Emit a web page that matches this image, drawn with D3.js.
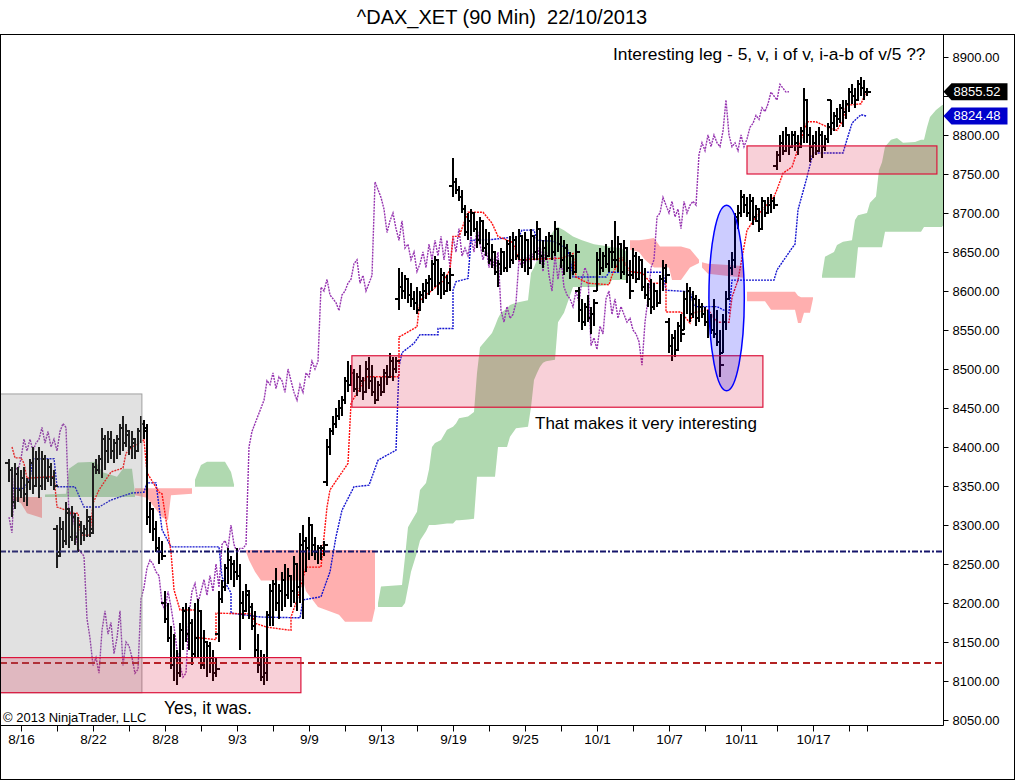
<!DOCTYPE html>
<html>
<head>
<meta charset="utf-8">
<script src="https://cdn.jsdelivr.net/npm/d3@7"></script>
<style>
  body { margin: 0; background: #fff; }
  svg { display: block; }
  text { font-family: 'Liberation Sans', Arial, sans-serif; }
  .axis text { font-family: 'Liberation Sans Narrow', 'Arial Narrow', 'Liberation Sans', Arial, sans-serif; }
</style>
</head>
<body>
<div id="chart"></div>
<script>
// trading days shown (8/15 only partly visible, 10/22 has one bar)
var tradingDays = ['8/15','8/16','8/19','8/20','8/21','8/22','8/23','8/26','8/27','8/28','8/29','8/30',
  '9/2','9/3','9/4','9/5','9/6','9/9','9/10','9/11','9/12','9/13','9/16','9/17','9/18','9/19','9/20',
  '9/23','9/24','9/25','9/26','9/27','9/30','10/1','10/2','10/3','10/4','10/7','10/8','10/9','10/10','10/11',
  '10/14','10/15','10/16','10/17','10/18','10/21','10/22'];

// 90 min bars: [open, high, low, close]
var ohlc = [
  // 8/15
  [8380,8385,8355,8370],[8370,8375,8310,8330],[8330,8380,8320,8365],[8365,8375,8330,8345],
  // 8/16
  [8345,8370,8335,8360],[8360,8375,8330,8340],[8340,8360,8325,8355],[8355,8385,8345,8380],[8380,8400,8340,8350],[8350,8395,8350,8385],
  // 8/19
  [8385,8400,8335,8350],[8350,8395,8345,8385],[8385,8390,8345,8360],[8360,8385,8355,8375],[8375,8380,8350,8360],[8360,8370,8345,8350],
  // 8/20
  [8295,8300,8245,8260],[8265,8310,8260,8295],[8295,8305,8270,8280],[8280,8330,8275,8320],[8315,8320,8270,8285],[8285,8325,8280,8310],
  // 8/21
  [8310,8315,8275,8285],[8285,8310,8265,8300],[8300,8305,8275,8290],[8290,8300,8280,8295],[8295,8320,8285,8310],[8305,8310,8285,8290],
  // 8/22
  [8295,8380,8290,8375],[8375,8385,8365,8370],[8370,8390,8365,8385],[8385,8425,8360,8410],[8410,8415,8370,8395],[8395,8420,8380,8410],
  // 8/23
  [8410,8420,8385,8395],[8395,8410,8380,8405],[8405,8415,8385,8410],[8410,8430,8390,8425],[8425,8440,8395,8405],[8405,8430,8400,8420],
  // 8/26
  [8415,8420,8390,8400],[8400,8420,8385,8410],[8405,8410,8385,8395],[8395,8425,8395,8420],[8420,8440,8405,8430],[8430,8435,8410,8425],
  // 8/27
  [8420,8430,8300,8310],[8310,8330,8290,8320],[8320,8320,8280,8295],[8295,8305,8265,8270],[8270,8285,8250,8265],[8265,8280,8255,8260],
  // 8/28
  [8200,8215,8175,8180],[8180,8200,8150,8155],[8155,8170,8115,8120],[8120,8160,8100,8130],[8130,8140,8095,8110],[8110,8175,8105,8165],
  // 8/29
  [8165,8195,8140,8190],[8190,8200,8150,8160],[8160,8195,8140,8175],[8175,8180,8120,8135],[8135,8200,8130,8155],[8155,8205,8130,8190],
  // 8/30
  [8190,8190,8115,8120],[8120,8165,8115,8150],[8150,8150,8105,8145],[8145,8150,8110,8130],[8130,8140,8100,8110],[8110,8130,8105,8115],
  // 9/2
  [8160,8215,8150,8205],[8205,8230,8200,8220],[8220,8250,8215,8245],[8245,8270,8225,8255],[8255,8260,8230,8250],[8250,8255,8220,8240],
  // 9/3
  [8240,8270,8230,8235],[8235,8250,8140,8200],[8200,8215,8180,8190],[8190,8225,8190,8215],[8210,8215,8180,8195],[8195,8200,8165,8170],
  // 9/4
  [8170,8190,8130,8140],[8140,8160,8110,8120],[8120,8140,8100,8105],[8105,8135,8095,8110],[8110,8190,8100,8185],[8185,8225,8170,8215],
  // 9/5
  [8215,8230,8170,8225],[8225,8245,8190,8200],[8200,8225,8180,8215],[8215,8240,8190,8230],[8230,8250,8195,8210],[8210,8245,8205,8235],
  // 9/6
  [8235,8235,8195,8215],[8215,8260,8200,8250],[8250,8250,8190,8220],[8220,8290,8200,8275],[8275,8300,8180,8280],[8280,8285,8240,8270],
  // 9/9
  [8270,8310,8255,8300],[8300,8300,8260,8275],[8275,8285,8255,8265],[8265,8275,8250,8270],[8270,8275,8255,8270],[8270,8280,8260,8275],
  // 9/10
  [8355,8410,8350,8400],[8400,8425,8390,8420],[8420,8440,8415,8430],[8430,8450,8425,8440],[8440,8460,8435,8450],[8450,8465,8440,8460],
  // 9/11
  [8460,8490,8455,8485],[8485,8510,8470,8480],[8480,8505,8480,8495],[8495,8500,8470,8475],[8475,8495,8465,8490],[8490,8505,8470,8485],
  // 9/12
  [8485,8490,8460,8470],[8470,8510,8470,8500],[8500,8515,8475,8485],[8485,8505,8465,8470],[8470,8490,8455,8460],[8460,8485,8460,8480],
  // 9/13
  [8480,8490,8465,8470],[8470,8500,8470,8495],[8495,8505,8480,8490],[8490,8520,8490,8510],[8510,8515,8485,8500],[8500,8515,8495,8510],
  // 9/16
  [8590,8630,8575,8605],[8605,8625,8590,8600],[8600,8620,8590,8615],[8615,8615,8585,8595],[8595,8610,8580,8590],[8590,8600,8575,8585],
  // 9/17
  [8585,8605,8570,8575],[8575,8600,8575,8595],[8595,8610,8585,8600],[8600,8615,8590,8610],[8610,8620,8595,8615],[8615,8640,8600,8635],
  // 9/18
  [8635,8645,8605,8640],[8640,8640,8595,8610],[8610,8630,8590,8620],[8620,8625,8595,8600],[8600,8620,8600,8610],[8610,8630,8600,8620],
  // 9/19
  [8735,8770,8720,8740],[8740,8745,8725,8730],[8730,8735,8715,8720],[8720,8730,8700,8705],[8705,8710,8670,8675],[8675,8700,8665,8690],
  // 9/20
  [8690,8705,8670,8700],[8700,8700,8675,8680],[8680,8690,8655,8665],[8665,8695,8660,8690],[8690,8690,8650,8655],[8655,8680,8645,8660],
  // 9/23
  [8660,8675,8635,8640],[8640,8660,8630,8650],[8650,8650,8620,8625],[8625,8640,8605,8635],[8635,8655,8620,8650],[8650,8650,8625,8630],
  // 9/24
  [8630,8665,8625,8660],[8660,8670,8630,8640],[8640,8675,8635,8665],[8665,8670,8640,8645],[8645,8680,8640,8670],[8670,8670,8630,8640],
  // 9/25
  [8640,8675,8625,8665],[8665,8665,8620,8630],[8630,8680,8630,8670],[8670,8670,8640,8650],[8650,8690,8640,8680],[8680,8680,8635,8645],
  // 9/26
  [8645,8665,8630,8655],[8655,8670,8640,8645],[8645,8675,8645,8670],[8670,8670,8640,8650],[8650,8690,8645,8680],[8680,8680,8650,8660],
  // 9/27
  [8660,8670,8630,8640],[8640,8665,8620,8655],[8655,8660,8625,8630],[8630,8650,8615,8645],[8645,8645,8620,8625],[8625,8660,8625,8650],
  // 9/30
  [8600,8605,8560,8575],[8575,8590,8550,8560],[8560,8585,8555,8580],[8580,8595,8560,8565],[8565,8580,8545,8570],[8570,8590,8555,8585],
  // 10/1
  [8600,8650,8600,8640],[8640,8655,8620,8630],[8630,8650,8625,8645],[8645,8660,8630,8635],[8635,8655,8625,8650],[8650,8665,8630,8640],
  // 10/2
  [8650,8690,8630,8640],[8640,8670,8625,8660],[8660,8660,8615,8625],[8625,8665,8620,8655],[8655,8655,8610,8620],[8620,8640,8590,8600],
  // 10/3
  [8620,8655,8615,8645],[8645,8650,8610,8615],[8615,8645,8615,8640],[8640,8640,8600,8605],[8605,8630,8590,8595],[8595,8610,8580,8590],
  // 10/4
  [8590,8615,8570,8580],[8580,8610,8575,8600],[8600,8600,8580,8585],[8585,8620,8585,8615],[8615,8640,8600,8630],[8630,8635,8610,8620],
  // 10/7
  [8560,8565,8520,8530],[8530,8545,8510,8540],[8540,8550,8515,8525],[8525,8560,8525,8555],[8555,8570,8535,8545],[8550,8600,8550,8590],
  // 10/8
  [8590,8610,8570,8600],[8600,8605,8560,8570],[8570,8600,8565,8590],[8590,8595,8555,8565],[8565,8590,8560,8580],[8580,8585,8565,8570],
  // 10/9
  [8570,8580,8555,8560],[8560,8575,8540,8565],[8565,8570,8545,8550],[8550,8590,8540,8545],[8545,8575,8530,8535],[8535,8550,8490,8505],
  // 10/10
  [8520,8570,8520,8560],[8560,8600,8550,8590],[8590,8640,8590,8630],[8630,8650,8620,8640],[8640,8700,8630,8695],[8695,8710,8680,8700],
  // 10/11
  [8700,8730,8695,8720],[8720,8725,8700,8710],[8710,8720,8695,8700],[8700,8725,8690,8715],[8715,8720,8685,8695],[8695,8710,8690,8705],
  // 10/14
  [8690,8705,8675,8680],[8680,8720,8680,8715],[8715,8715,8695,8700],[8700,8720,8700,8710],[8710,8725,8700,8715],[8715,8720,8705,8710],
  // 10/15
  [8760,8780,8755,8775],[8775,8800,8765,8790],[8790,8805,8775,8780],[8780,8810,8780,8800],[8800,8800,8775,8785],[8785,8805,8785,8800],
  // 10/16
  [8800,8805,8780,8790],[8790,8800,8775,8785],[8785,8810,8785,8805],[8805,8860,8790,8845],[8845,8845,8790,8800],[8800,8810,8765,8785],
  // 10/17
  [8785,8800,8770,8790],[8790,8805,8775,8780],[8780,8810,8780,8800],[8800,8805,8770,8785],[8785,8800,8780,8795],[8795,8815,8790,8810],
  // 10/18
  [8845,8845,8800,8815],[8815,8830,8805,8825],[8825,8835,8810,8820],[8820,8840,8815,8835],[8835,8845,8810,8830],[8830,8845,8820,8840],
  // 10/21
  [8840,8860,8830,8855],[8855,8865,8840,8850],[8850,8860,8835,8845],[8845,8870,8845,8865],[8865,8875,8850,8860],[8860,8870,8845,8855],
  // 10/22
  [8855,8860,8850,8855.52]
];

// Ichimoku lines: [bar, value]
var tenkan = [[1,8400],[2,8386],[4,8386],[5,8379],[6,8360],[15,8362],[16,8323],[19,8319],[20,8315],[23,8315],[24,8287],
  [27,8287],[28,8328],[30,8345],[34,8368],[38,8373],[39,8392],[41,8400],[45,8409],[46,8367],[50,8342],[51,8340],[54,8265],
  [55,8217],[57,8191],[62,8191],[62,8156],[69,8153],[69,8187],[81,8186],[82,8174],[86,8169],[94,8165],[94,8182],[96,8204],
  [99,8246],[104,8246],[106,8323],[107,8345],[113,8379],[114,8456],[119,8490],[130,8490],[130,8541],[136,8554],[137,8588],
  [141,8601],[145,8614],[147,8627],[148,8670],[150,8670],[153,8701],[158,8701],[161,8687],[163,8670],[168,8662],[170,8640],
  [184,8642],[188,8648],[189,8618],[193,8610],[200,8608],[201,8620],[204,8644],[207,8625],[211,8623],[214,8610],[219,8610],
  [219,8573],[224,8573],[227,8559],[228,8572],[233,8576],[236,8560],[240,8560],[241,8592],[243,8614],[246,8678],[249,8695],
  [255,8721],[256,8730],[258,8751],[261,8759],[264,8794],[266,8817],[269,8817],[273,8810],[276,8806],[278,8819],[279,8838],
  [284,8840],[285,8849],[286,8854]];

var kijun = [[1,8347],[5,8347],[7,8360],[8,8385],[15,8385],[16,8349],[22,8349],[25,8323],[30,8323],[34,8332],[37,8336],
  [41,8341],[45,8342],[46,8354],[49,8354],[51,8294],[54,8272],[70,8272],[71,8233],[74,8213],[74,8187],[84,8182],[97,8181],
  [98,8204],[104,8208],[107,8240],[109,8285],[111,8319],[115,8349],[120,8351],[123,8383],[129,8396],[130,8503],[131,8521],
  [135,8533],[137,8544],[143,8544],[143,8552],[148,8552],[148,8601],[149,8612],[153,8616],[154,8665],[161,8666],[170,8670],
  [171,8678],[175,8678],[176,8665],[181,8664],[186,8655],[187,8642],[188,8618],[199,8618],[200,8624],[218,8624],[219,8601],
  [227,8599],[228,8585],[229,8580],[236,8580],[240,8572],[241,8614],[255,8614],[256,8627],[261,8655],[262,8660],[263,8704],
  [266,8746],[268,8777],[278,8777],[279,8790],[281,8815],[282,8819],[284,8826],[286,8824]];

// cloud: [bar, senkou A, senkou B], null breaks the fill
var kumo = [
  [1,8334,8336],[4,8328,8336],[6,8315,8336],[11,8309,8336], null,
  [12,8339,8336],[19,8340,8336],[20,8372,8336],[23,8380,8336],[29,8381,8336],[31,8368,8336],[36,8362,8336],[38,8372,8336],
  [41,8372,8336],[42,8340,8336], null,
  [42,8338,8347],[46,8335,8347],[49,8320,8347],[51,8310,8347],[53,8306,8347],[54,8338,8347],[61,8340,8347], null,
  [62,8358,8349],[64,8377,8349],[66,8381,8349],[72,8381,8349],[74,8368,8349],[75,8352,8349], null,
  [79,8266,8268],[80,8255,8268],[82,8240,8268],[84,8229,8268],[98,8229,8268],[99,8215,8268],[103,8195,8268],[110,8185,8268],
  [112,8176,8268],[121,8176,8268],[122,8193,8267], null,
  [123,8200,8195],[124,8221,8195],[131,8223,8195],[132,8259,8200],[133,8297,8220],[134,8304,8240],[136,8317,8265],[137,8345,8280],
  [139,8354,8292],[140,8371,8300],[141,8400,8300],[142,8405,8300],[144,8409,8301],[146,8422,8302],[148,8426,8302],[149,8430,8306],
  [150,8437,8306],[153,8439,8307],[155,8445,8308],[156,8495,8362],[157,8528,8362],[161,8546,8362],[162,8555,8362],[163,8565,8400],
  [164,8572,8400],[166,8578,8400],[167,8582,8413],[169,8585,8424],[173,8588,8426],[174,8623,8451],[175,8630,8486],[176,8640,8495],
  [177,8644,8503],[178,8650,8508],[179,8662,8510],[182,8680,8512],[183,8682,8560],[185,8678,8572],[188,8670,8605],[191,8665,8605],
  [195,8660,8605],[200,8657,8608],[201,8656,8614],[204,8655,8614],[206,8650,8614], null,
  [207,8653,8665],[210,8650,8665],[212,8640,8666],[215,8630,8668],[217,8630,8657],[220,8630,8657],[221,8614,8657],[224,8614,8657],
  [227,8630,8654],[230,8636,8640], null,
  [231,8630,8637],[233,8622,8635],[245,8617,8632], null,
  [246,8587,8599],[252,8587,8599],[254,8576,8599],[262,8576,8599],[263,8559,8594],[264,8559,8592],[265,8572,8592],[267,8572,8592],
  [268,8590,8592], null,
  [271,8620,8617],[272,8644,8617],[275,8650,8617],[276,8659,8617],[278,8663,8617],[281,8665,8617],[282,8691,8617],[283,8697,8656],
  [286,8700,8656],[287,8713,8656],[289,8721,8656],[290,8755,8656],[291,8765,8656],[292,8785,8676],[294,8794,8676],[296,8796,8676],
  [298,8790,8676],[302,8791,8676],[304,8794,8676],[305,8794,8682],[306,8810,8682],[307,8823,8682],[309,8832,8682],[311,8838,8682],
  [312,8840,8688]
];

var chikouShift = 26;
var yTicks = d3.range(8050, 8901, 50);

// drawn objects: [bar from, bar to, price top, price bottom]
var greyZone = [-3, 44.3, 8468, 8085];
var pinkZones = [[-3, 97.3, 8130, 8085], [114.3, 251.3, 8517, 8451], [246, 309.3, 8786, 8750]];
var ellipseZone = [233.3, 245.1, 8710, 8472];
var dashDotLevel = 8266;
var dashLevel = 8123;
var lastPrices = [8855.52, 8824.48];

var W = 1016, H = 781;
var plotL = 0, plotR = 943, plotT = 34, plotB = 725;

var svg = d3.select('#chart').append('svg')
  .attr('width', W)
  .attr('height', H);

var x = d3.scaleLinear().domain([0, 312]).range([9, 945]);
var y = d3.scaleLinear().domain([8050, 8900]).range([720, 57]);

svg.append('defs').append('clipPath').attr('id', 'plot')
  .append('rect')
  .attr('x', plotL + 1).attr('y', plotT + 1)
  .attr('width', plotR - plotL - 1).attr('height', plotB - plotT - 1);

var plot = svg.append('g').attr('clip-path', 'url(#plot)');

////////////////////////
// Cloud
////////////////////////
var segs = [], cur = [];
kumo.forEach(function(d) {
  if (d === null) { segs.push(cur); cur = []; }
  else cur.push(d);
});
if (cur.length) segs.push(cur);

var area = d3.area()
  .x(function(d) { return x(d[0]); })
  .y0(function(d) { return y(d[2]); })
  .y1(function(d) { return y(d[1]); });

plot.selectAll('path.kumo')
  .data(segs)
  .enter().append('path')
  .attr('class', 'kumo')
  .attr('d', area)
  .style('fill', function(s) {
    var up = d3.mean(s, function(d) { return d[1] - d[2]; });
    return up >= 0 ? '#b0d9b0' : '#ffafaf';
  })
  .style('stroke', 'none');

////////////////////////
// Ichimoku lines
////////////////////////
var line = d3.line()
  .x(function(d) { return x(d[0]); })
  .y(function(d) { return y(d[1]); });

var chikou = ohlc.map(function(d, i) { return [i - chikouShift, d[3]]; })
  .filter(function(d) { return d[0] >= 0; });

plot.append('path').datum(chikou)
  .attr('d', line)
  .style('fill', 'none').style('stroke', '#9634b0')
  .style('stroke-width', 1.4).style('stroke-dasharray', '2,1');

plot.append('path').datum(kijun)
  .attr('d', line)
  .style('fill', 'none').style('stroke', '#1515d0')
  .style('stroke-width', 1.4).style('stroke-dasharray', '2,1');

plot.append('path').datum(tenkan)
  .attr('d', line)
  .style('fill', 'none').style('stroke', '#ff1010')
  .style('stroke-width', 1.4).style('stroke-dasharray', '2,1');

////////////////////////
// OHLC bars
////////////////////////
plot.selectAll('path.bar')
  .data(ohlc)
  .enter().append('path')
  .attr('class', 'bar')
  .attr('d', function(d, i) {
    var cx = x(i);
    return 'M' + cx + ',' + Math.round(y(d[1])) + 'V' + Math.round(y(d[2])) +
      'M' + (cx - 4) + ',' + Math.round(y(d[0])) + 'H' + cx +
      'M' + cx + ',' + Math.round(y(d[3])) + 'H' + (cx + 4);
  })
  .style('fill', 'none')
  .style('stroke', '#000')
  .style('stroke-width', 2)
  .style('shape-rendering', 'crispEdges');

////////////////////////
// Horizontal levels
////////////////////////
plot.append('line')
  .attr('x1', plotL).attr('x2', plotR)
  .attr('y1', y(dashDotLevel)).attr('y2', y(dashDotLevel))
  .style('stroke', '#15156b').style('stroke-width', 2)
  .style('stroke-dasharray', '6,2,2,2');

plot.append('line')
  .attr('x1', plotL).attr('x2', plotR)
  .attr('y1', y(dashLevel)).attr('y2', y(dashLevel))
  .style('stroke', '#b22222').style('stroke-width', 2)
  .style('stroke-dasharray', '7,4');

////////////////////////
// Drawn zones
////////////////////////
function zoneRect(sel, z) {
  return sel.attr('x', x(z[0]))
    .attr('y', y(z[2]))
    .attr('width', x(z[1]) - x(z[0]))
    .attr('height', y(z[3]) - y(z[2]));
}

zoneRect(plot.append('rect'), greyZone)
  .style('fill', 'rgb(128,128,128)').style('fill-opacity', 0.24)
  .style('stroke', '#a0a0a0').style('stroke-width', 1);

plot.selectAll('rect.pink')
  .data(pinkZones)
  .enter().append('rect')
  .attr('class', 'pink')
  .each(function(z) { zoneRect(d3.select(this), z); })
  .style('fill', '#dc143c').style('fill-opacity', 0.2)
  .style('stroke', '#dc143c').style('stroke-width', 1.2);

plot.append('ellipse')
  .attr('cx', (x(ellipseZone[0]) + x(ellipseZone[1])) / 2)
  .attr('cy', (y(ellipseZone[2]) + y(ellipseZone[3])) / 2)
  .attr('rx', (x(ellipseZone[1]) - x(ellipseZone[0])) / 2)
  .attr('ry', (y(ellipseZone[3]) - y(ellipseZone[2])) / 2)
  .style('fill', '#0000ff').style('fill-opacity', 0.2)
  .style('stroke', '#0000ff').style('stroke-width', 1.5);

////////////////////////
// Texts
////////////////////////
plot.append('text')
  .attr('x', 613).attr('y', 60)
  .style('font-size', '17.4px').style('fill', '#000')
  .text('Interesting leg - 5, v, i of v, i-a-b of v/5 ??');

plot.append('text')
  .attr('x', 535).attr('y', 429)
  .style('font-size', '17px').style('fill', '#000')
  .text('That makes it very interesting');

plot.append('text')
  .attr('x', 164).attr('y', 714)
  .style('font-size', '17.5px').style('fill', '#000')
  .text('Yes, it was.');

plot.append('text')
  .attr('x', 3).attr('y', 722)
  .style('font-size', '13px').style('fill', '#000')
  .text('\u00a9 2013 NinjaTrader, LLC');

svg.append('text')
  .attr('x', 502).attr('y', 24)
  .attr('text-anchor', 'middle')
  .style('font-size', '20px').style('white-space', 'pre')
  .text('^DAX_XET (90 Min)  22/10/2013');

////////////////////////
// Axes and frame
////////////////////////
var yAxis = svg.append('g')
  .attr('class', 'axis')
  .attr('transform', 'translate(' + (plotR + 0.5) + ',0)')
  .call(d3.axisRight(y).tickValues(yTicks).tickSize(5).tickPadding(4).tickFormat(d3.format('.2f')));
yAxis.select('.domain').remove();
yAxis.selectAll('text').style('font-size', '13px').style('fill', '#000');
yAxis.selectAll('line').style('stroke', '#000');
// labels hidden behind the last price markers
yAxis.selectAll('.tick')
  .filter(function(d) { return lastPrices.some(function(p) { return Math.abs(y(p) - y(d)) < 12; }); })
  .select('text').remove();

var firstBar = [0];
tradingDays.forEach(function(d, i) { if (i > 0) firstBar.push(i === 1 ? 4 : firstBar[i - 1] + 6); });
var tickDays = [], labelOf = {};
tradingDays.forEach(function(d, i) {
  if (i >= 1 && ((i - 1) % 2 === 0 || i === tradingDays.length - 1)) {
    tickDays.push(firstBar[i]);
    labelOf[firstBar[i]] = (i - 1) % 4 === 0 ? d : '';
  }
});

var xAxis = svg.append('g')
  .attr('class', 'axis')
  .attr('transform', 'translate(0,' + (plotB + 0.5) + ')')
  .call(d3.axisBottom(x).tickValues(tickDays).tickSize(6).tickPadding(3)
    .tickFormat(function(k) { return labelOf[k]; }));
xAxis.select('.domain').remove();
xAxis.selectAll('text').style('font-size', '13.5px').style('fill', '#000');
xAxis.selectAll('line').style('stroke', '#000');

svg.append('line')
  .attr('x1', plotR + 0.5).attr('x2', plotR + 0.5)
  .attr('y1', plotT).attr('y2', plotB + 0.5)
  .style('stroke', '#000');
svg.append('line')
  .attr('x1', plotL).attr('x2', plotR + 0.5)
  .attr('y1', plotB + 0.5).attr('y2', plotB + 0.5)
  .style('stroke', '#000');
svg.append('rect')
  .attr('x', 0.5).attr('y', plotT + 0.5)
  .attr('width', W - 2).attr('height', H - plotT - 2)
  .style('fill', 'none').style('stroke', '#000');

// last price markers
var markColors = ['#000', '#0000cc'];
var marks = svg.selectAll('g.mark')
  .data(lastPrices)
  .enter().append('g')
  .attr('class', 'mark axis')
  .attr('transform', function(d) { return 'translate(' + (plotR + 0.5) + ',' + y(d) + ')'; });
marks.append('path')
  .attr('d', 'M0,0L8,-8.5H64V8.5H8Z')
  .style('fill', function(d, i) { return markColors[i]; });
marks.append('text')
  .attr('x', 10).attr('dy', '0.35em')
  .style('font-size', '13px').style('fill', '#fff')
  .text(function(d) { return d3.format('.2f')(d); });
</script>
</body>
</html>
